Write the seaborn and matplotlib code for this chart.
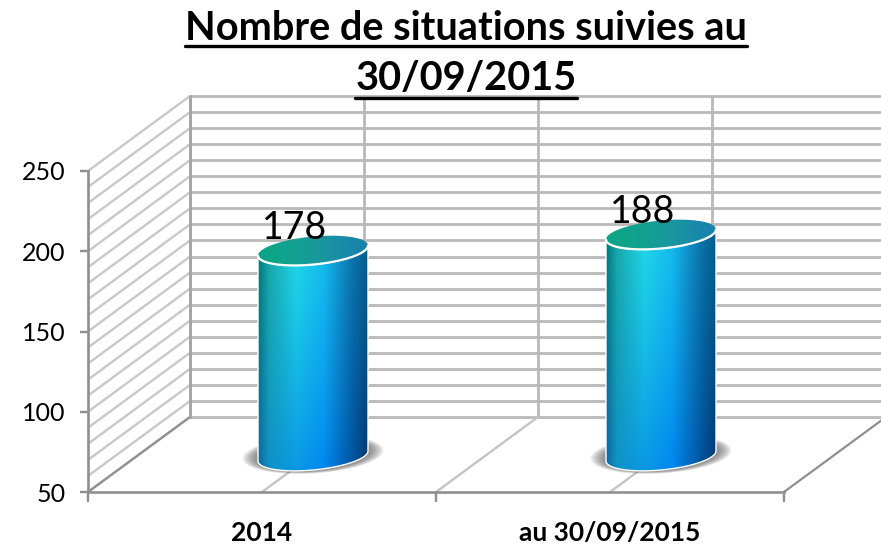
import numpy as np
import pandas as pd
import seaborn as sns
import matplotlib.pyplot as plt
from matplotlib.lines import Line2D
from matplotlib.patches import Polygon

categories = ["2014", "au 30/09/2015"]
values = [178, 188]
y_ticks = [50, 100, 150, 200, 250]
grid_values = list(range(50, 260, 10))
title_lines = ["Nombre de situations suivies au", "30/09/2015"]

W, H = 881, 545
DEPTH_X, DEPTH_Y = 102, 75   # px shift from the front plane to the back wall
PLOT_L, PLOT_B, PLOT_W, PLOT_H = 88, 492, 696, 321

sns.set_theme(style="white")
plt.rcParams["font.family"] = ["Lato", "DejaVu Sans"]


def plane(fig, depth, down=0):
    # one axes per depth, same scales, only moved in the figure
    rect = [(PLOT_L + depth * DEPTH_X) / W, 1 - (PLOT_B - depth * DEPTH_Y + down) / H, PLOT_W / W, PLOT_H / H]
    ax = fig.add_axes(rect)
    ax.set_xlim(-0.5, 1.5)
    ax.set_ylim(50, 250)
    ax.patch.set_alpha(0)
    return ax


def gradient(stops_top, stops_bottom):
    pos = [0, 0.1, 0.35, 0.6, 0.85, 1]
    t = np.linspace(0, 1, 120)
    top = np.array([np.interp(t, pos, [c[i] for c in stops_top]) for i in range(3)]).T
    bot = np.array([np.interp(t, pos, [c[i] for c in stops_bottom]) for i in range(3)]).T
    s = np.linspace(0, 1, 200)[:, None, None] ** 1.2
    return (top[None, :, :] * (1 - s) + bot[None, :, :] * s) / 255


fig = plt.figure(figsize=(W / 100, H / 100), dpi=100, facecolor="white")
ax_back = plane(fig, 1)
ax_front = plane(fig, 0)
ax_bars = plane(fig, 0.5, down=1.5)

# back wall
ax_back.set_xticks([-0.5, 0, 0.5, 1, 1.5])
ax_back.set_yticks(grid_values)
ax_back.grid(True, color="#b9b9b9", linewidth=2.0)
for line in ax_back.get_ygridlines() + ax_back.get_xgridlines():
    line.set_clip_on(False)
ax_back.tick_params(length=0, labelleft=False, labelbottom=False)
sns.despine(ax=ax_back, left=True, bottom=True)

# side wall and floor, in the front axes data units
dx = DEPTH_X / PLOT_W * 2
dy = DEPTH_Y / PLOT_H * 200
for v in grid_values:
    ax_front.plot([-0.5, -0.5 + dx], [v, v + dy], color="#c8c8c8", lw=1.7, clip_on=False, zorder=1)
for x in [0, 0.5, 1]:
    ax_front.plot([x, x + dx], [50, 50 + dy], color="#c4c4c4", lw=1.7, clip_on=False, zorder=1)
ax_front.plot([-0.5, -0.5 + dx], [50, 50 + dy], color="#8f8f8f", lw=1.6, clip_on=False, zorder=2)
ax_front.plot([1.5, 1.5 + dx], [50, 50 + dy], color="#8f8f8f", lw=1.6, clip_on=False, zorder=2)
ax_front.plot([-0.5 + dx, -0.5 + dx], [50 + dy, 250 + dy], color="#a4a4a4", lw=2.0, clip_on=False, zorder=2)

# front axes
ax_front.set_yticks(y_ticks)
ax_front.set_xticks([-0.5, 0.5, 1.5])
ax_front.set_xticklabels([])
ax_front.set_xticks([0, 1], minor=True)
ax_front.set_xticklabels(categories, minor=True, fontsize=19, fontweight="bold", color="black")
ax_front.tick_params(axis="x", which="major", length=7, width=1.7, color="#8f8f8f", bottom=True)
ax_front.tick_params(axis="x", which="minor", length=0, pad=21, bottom=True)
ax_front.tick_params(axis="y", length=6, width=1.7, color="#8f8f8f", left=True, labelsize=18, labelcolor="black", pad=10)
sns.despine(ax=ax_front, top=True, right=True)
for side in ["left", "bottom"]:
    ax_front.spines[side].set_color("#8f8f8f")
    ax_front.spines[side].set_linewidth(1.9)

# cylinders
df = pd.DataFrame({"cat": categories, "val": values})
sns.barplot(data=df, x="cat", y="val", width=110 / 348, color="#0b93e0", saturation=1, ax=ax_bars)
ax_bars.set_xlim(-0.5, 1.5)
ax_bars.set_ylim(50, 250)
ax_bars.axis("off")

B = 14 / PLOT_H * 200
TILT = 5 / PLOT_H * 200
t_front = np.linspace(np.pi, 2 * np.pi, 60)
t_back = np.linspace(0, np.pi, 60)
t_all = np.r_[t_front, t_back]
body_img = gradient(
    [(0, 122, 122), (25, 170, 170), (32, 218, 232), (22, 190, 238), (12, 120, 175), (5, 95, 140)],
    [(15, 105, 165), (15, 145, 200), (10, 150, 228), (0, 135, 240), (0, 85, 165), (0, 55, 115)],
)
cap_row = [(12, 165, 135), (12, 165, 135), (18, 160, 145), (25, 150, 160), (25, 135, 170), (25, 130, 170)]
cap_img = gradient(cap_row, cap_row)

for bar, v in zip(ax_bars.patches, values):
    cx = bar.get_x() + bar.get_width() / 2
    a = bar.get_width() / 2

    # soft shadow on the floor
    for k in np.linspace(1.28, 1.0, 12):
        sx = cx + a * k * np.cos(t_all)
        sy = 50 + B * (0.4 + k * 0.75) * np.sin(t_all) + TILT * 0.8 * np.cos(t_all) + 1.0
        ax_bars.add_patch(Polygon(np.c_[sx, sy], closed=True, fc="#555555", ec="none", alpha=0.09, zorder=1, clip_on=False))

    # side of the cylinder: bottom front arc then top front arc reversed
    bx = cx + a * np.cos(t_front)
    by = 50 + B * np.sin(t_front) + TILT * np.cos(t_front)
    tx = cx + a * np.cos(t_front)
    ty = v + B * np.sin(t_front) + TILT * np.cos(t_front)
    outline = np.r_[np.c_[bx, by], np.c_[tx, ty][::-1]]
    body = Polygon(outline, closed=True, fc="none", ec="#ffffff", lw=1.0, zorder=3, clip_on=False)
    ax_bars.add_patch(body)
    bar.set_zorder(2)
    bar.set_clip_box(None)
    bar.set_clip_path(body)
    im = ax_bars.imshow(body_img, extent=[cx - a, cx + a, 50 - B - TILT, v + B], aspect="auto",
                        origin="upper", zorder=2.5, interpolation="bilinear")
    im.set_clip_path(body)
    im.set_clip_box(fig.bbox)

    # top of the cylinder
    cap = Polygon(np.c_[cx + a * np.cos(t_all), v + B * np.sin(t_all) + TILT * np.cos(t_all)],
                  closed=True, fc="none", ec="none", zorder=4, clip_on=False)
    ax_bars.add_patch(cap)
    im2 = ax_bars.imshow(cap_img, extent=[cx - a, cx + a, v - B - TILT, v + B + TILT], aspect="auto",
                         origin="upper", zorder=4, interpolation="bilinear")
    im2.set_clip_path(cap)
    im2.set_clip_box(fig.bbox)
    ax_bars.plot(tx, ty, color="white", lw=1.6, zorder=5, clip_on=False, solid_capstyle="round")

    ax_bars.annotate(str(v), xy=(cx, v), xytext=(-18 * 0.72, 23 * 0.72), textcoords="offset points",
                     ha="center", va="center", fontsize=27, color="black", zorder=6, annotation_clip=False)

ax_bars.set_xlim(-0.5, 1.5)
ax_bars.set_ylim(50, 250)

# title, underline drawn from the text extents
title_y = [29, 78]
underline_y = [46, 98]
texts = [fig.text(466 / W, 1 - y / H, s, ha="center", va="center", fontsize=28.6, fontweight="bold", color="black", zorder=10)
         for s, y in zip(title_lines, title_y)]
fig.canvas.draw()
for txt, y in zip(texts, underline_y):
    box = txt.get_window_extent()
    fig.add_artist(Line2D([box.x0 / W, box.x1 / W], [1 - y / H, 1 - y / H], color="black", lw=2.4, zorder=10))

fig.savefig("out.png", dpi=100)
